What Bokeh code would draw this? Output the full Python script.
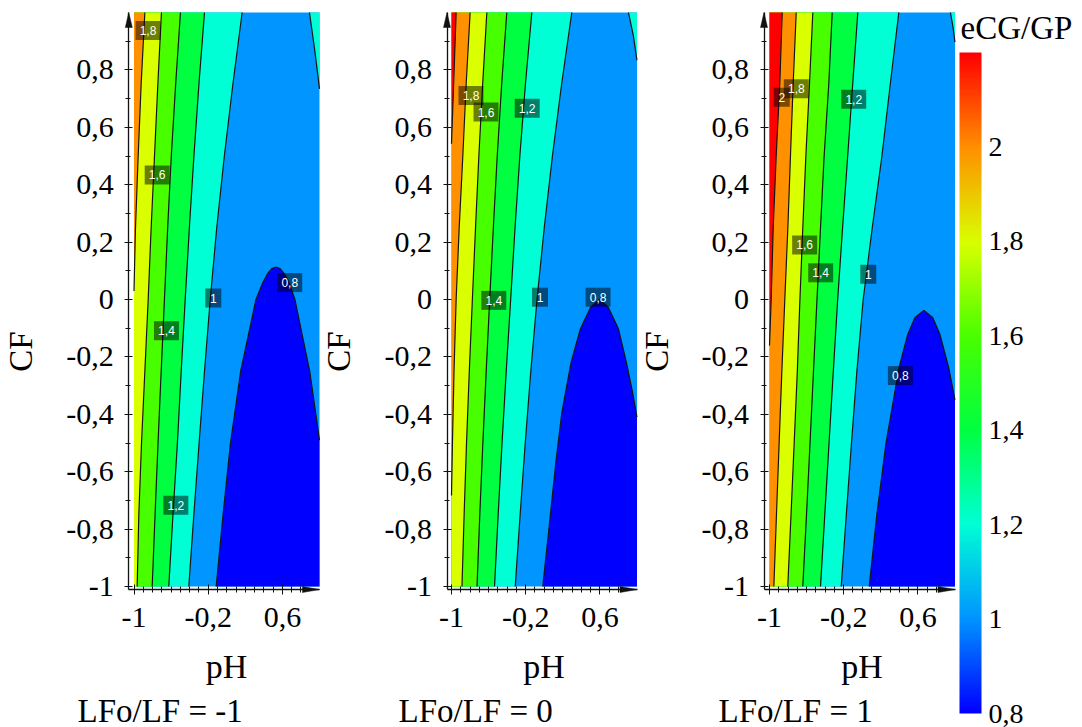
import numpy as np
from bokeh.plotting import figure
from bokeh.core.properties import value
from bokeh.models import (Range1d, FixedTicker, CustomJSTickFormatter, Label,
                          LinearAxis, LinearColorMapper)
from bokeh.embed import file_html
from bokeh.resources import INLINE

# ------------------------------------------------------------------ data
PH_MIN, PH_MAX = -1.0, 1.0
CF_MIN, CF_MAX = -1.0, 1.0
CF_GRID = [1.0, 0.75, 0.5, 0.25, 0.0, -0.25, -0.5, -0.75, -1.0]

X_MAJOR = [-1.0, -0.2, 0.6]
X_MINOR = [-0.9, -0.8, -0.7, -0.6, -0.5, -0.4, -0.3, -0.1, 0.0, 0.1, 0.2, 0.3,
           0.4, 0.5, 0.7, 0.8]
Y_MAJOR = [-1.0, -0.8, -0.6, -0.4, -0.2, 0.0, 0.2, 0.4, 0.6, 0.8]
Y_MINOR = [-0.9, -0.7, -0.5, -0.3, -0.1, 0.1, 0.3, 0.5, 0.7, 0.9]
CB_TICKS = [0.8, 1.0, 1.2, 1.4, 1.6, 1.8, 2.0]
CB_LOW, CB_HIGH = 0.8, 2.2
CB_ANCHOR_VALUES = [0.8, 1.0, 1.2, 1.4, 1.6, 1.8, 2.0, 2.2]
CB_ANCHOR_COLORS = ["#0000ff", "#0095ff", "#00ffd5", "#00ff40", "#48ff00",
                    "#d9ff00", "#ff9000", "#ff0000"]
CB_TITLE = "eCG/GP"
X_TITLE = "pH"
Y_TITLE = "CF"
PANEL_CAPTIONS = ["LFo/LF = -1", "LFo/LF = 0", "LFo/LF = 1"]

# ---- panel 1 : LFo/LF = -1 (pH positions of each contour line)
p1_cf_18 = [1.0, 0.75, 0.5, 0.25, 0.03]
p1_ph_18 = [-0.883, -0.923, -0.955, -0.984, -1.0]
p1_ph_16 = [-0.704, -0.743, -0.779, -0.815, -0.847, -0.883, -0.919, -0.948, -0.966]
p1_ph_14 = [-0.499, -0.551, -0.598, -0.637, -0.672, -0.707, -0.741, -0.773, -0.804]
p1_ph_12 = [-0.240, -0.300, -0.354, -0.403, -0.448, -0.491, -0.532, -0.580, -0.625]
p1_ph_10 = [0.166, 0.066, -0.026, -0.108, -0.178, -0.240, -0.298, -0.355, -0.409]
p1_edge10_ph = [0.892, 0.949, 0.975, 1.0]
p1_edge10_cf = [1.0, 0.868, 0.80, 0.734]
p1_dome_ph = [-0.114, -0.04, 0.04, 0.15, 0.315, 0.39, 0.44, 0.485, 0.53, 0.575, 0.62, 0.67, 0.735, 0.895, 1.0]
p1_dome_cf = [-1.0, -0.75, -0.5, -0.25, 0.0, 0.06, 0.09, 0.108, 0.113, 0.108, 0.09, 0.06, 0.0, -0.25, -0.49]
p1_lab_text = ["1,8", "1,6", "1,4", "1,2", "1", "0,8"]
p1_lab_ph = [-0.849, -0.750, -0.650, -0.549, -0.145, 0.679]
p1_lab_cf = [0.937, 0.434, -0.109, -0.717, 0.005, 0.059]

# ---- panel 2 : LFo/LF = 0
p2_cf_20 = [1.0, 0.75, 0.543]
p2_ph_20 = [-0.950, -0.977, -1.0]
p2_cf_18 = [1.0, 0.75, 0.5, 0.25, 0.0, -0.25, -0.5, -0.683]
p2_ph_18 = [-0.799, -0.842, -0.878, -0.917, -0.950, -0.973, -0.990, -1.0]
p2_ph_16 = [-0.619, -0.664, -0.705, -0.741, -0.775, -0.808, -0.838, -0.864, -0.887]
p2_ph_14 = [-0.404, -0.459, -0.507, -0.549, -0.588, -0.626, -0.662, -0.695, -0.725]
p2_ph_12 = [-0.134, -0.203, -0.263, -0.315, -0.362, -0.410, -0.455, -0.497, -0.536]
p2_ph_10 = [0.297, 0.187, 0.088, 0.000, -0.078, -0.145, -0.205, -0.260, -0.313]
p2_edge10_ph = [0.908, 0.96, 1.0]
p2_edge10_cf = [1.0, 0.92, 0.833]
p2_dome_ph = [-0.016, 0.05, 0.125, 0.19, 0.29, 0.39, 0.50, 0.595, 0.69, 0.80, 0.885, 0.95, 1.0]
p2_dome_cf = [-1.0, -0.8, -0.567, -0.393, -0.218, -0.102, -0.027, 0.0, -0.027, -0.102, -0.218, -0.32, -0.41]
p2_lab_text = ["1,8", "1,6", "1,2", "1,4", "1", "0,8"]
p2_lab_ph = [-0.790, -0.628, -0.184, -0.544, -0.046, 0.580]
p2_lab_cf = [0.711, 0.653, 0.666, -0.003, 0.008, 0.008]

# ---- panel 3 : LFo/LF = 1
p3_cf_20 = [1.0, 0.75, 0.5, 0.25, 0.0, -0.16]
p3_ph_20 = [-0.863, -0.889, -0.928, -0.960, -0.982, -1.0]
p3_ph_18 = [-0.712, -0.745, -0.774, -0.802, -0.835, -0.867, -0.896, -0.925, -0.953]
p3_ph_16 = [-0.533, -0.569, -0.608, -0.641, -0.672, -0.700, -0.734, -0.768, -0.803]
p3_ph_14 = [-0.324, -0.361, -0.411, -0.450, -0.488, -0.526, -0.563, -0.601, -0.641]
p3_ph_12 = [-0.048, -0.103, -0.157, -0.212, -0.265, -0.312, -0.358, -0.404, -0.450]
p3_ph_10 = [0.394, 0.302, 0.212, 0.108, 0.010, -0.058, -0.116, -0.172, -0.227]
p3_edge10_ph = [0.951, 0.978, 1.0]
p3_edge10_cf = [1.0, 0.95, 0.897]
p3_dome_ph = [0.075, 0.157, 0.256, 0.397, 0.492, 0.569, 0.664, 0.759, 0.836, 0.931, 1.0]
p3_dome_cf = [-1.0, -0.75, -0.5, -0.236, -0.12, -0.063, -0.038, -0.063, -0.12, -0.236, -0.35]
p3_lab_text = ["2", "1,8", "1,2", "1,6", "1,4", "1", "0,8"]
p3_lab_ph = [-0.868, -0.711, -0.092, -0.621, -0.448, 0.065, 0.411]
p3_lab_cf = [0.705, 0.734, 0.698, 0.190, 0.093, 0.088, -0.265]

# ------------------------------------------------------------------ layout / style
W, H = 1082, 727
BAND_ABOVE = {0.8: "#0095ff", 1.0: "#00ffd5", 1.2: "#00ff40", 1.4: "#48ff00",
              1.6: "#d9ff00", 1.8: "#ff9000", 2.0: "#ff0000"}
BAND_BELOW_08 = "#0000ff"
SERIF = "Liberation Serif"
AX_COLOR = "#111111"
LINE_COLOR = "#151515"
PPX = 92.75          # px per pH unit
PPY = 287.0          # px per CF unit
CF0_PX = 299.0       # page y of CF = 0
AXIS_Y_PX = 589.0    # page y of the pH axis lines
CB_X0, CB_W, CB_TOP, CB_BOT = 959, 22, 52, 713
TICK_FONT = "30px"
CB_FONT = "28px"

FMT = """
const v = Math.round(tick * 10) / 10;
const s = Number.isInteger(v) ? v.toFixed(0) : v.toFixed(1);
return s.replace('.', ',');
"""

panels = [
    dict(lines=[(1.0, p1_ph_10, CF_GRID), (1.2, p1_ph_12, CF_GRID), (1.4, p1_ph_14, CF_GRID),
                (1.6, p1_ph_16, CF_GRID), (1.8, p1_ph_18, p1_cf_18)],
         edge=(p1_edge10_ph, p1_edge10_cf), dome=(p1_dome_ph, p1_dome_cf),
         labels=(p1_lab_text, p1_lab_ph, p1_lab_cf),
         xl=133.5, ax=128.3, cf_lab=(20, 351), ph_lab=(226, 666), cap=(77, 710)),
    dict(lines=[(1.0, p2_ph_10, CF_GRID), (1.2, p2_ph_12, CF_GRID), (1.4, p2_ph_14, CF_GRID),
                (1.6, p2_ph_16, CF_GRID), (1.8, p2_ph_18, p2_cf_18), (2.0, p2_ph_20, p2_cf_20)],
         edge=(p2_edge10_ph, p2_edge10_cf), dome=(p2_dome_ph, p2_dome_cf),
         labels=(p2_lab_text, p2_lab_ph, p2_lab_cf),
         xl=451.0, ax=446.5, cf_lab=(338, 351), ph_lab=(543.5, 666), cap=(398, 710)),
    dict(lines=[(1.0, p3_ph_10, CF_GRID), (1.2, p3_ph_12, CF_GRID), (1.4, p3_ph_14, CF_GRID),
                (1.6, p3_ph_16, CF_GRID), (1.8, p3_ph_18, CF_GRID), (2.0, p3_ph_20, p3_cf_20)],
         edge=(p3_edge10_ph, p3_edge10_cf), dome=(p3_dome_ph, p3_dome_cf),
         labels=(p3_lab_text, p3_lab_ph, p3_lab_cf),
         xl=769.0, ax=763.5, cf_lab=(656, 351), ph_lab=(861.5, 666), cap=(718, 710)),
]

p = figure(width=W, height=H, x_range=Range1d(0, W), y_range=Range1d(0, H),
           x_axis_location=None, y_axis_location=None, toolbar_location=None,
           output_backend="svg", min_border=0)
p.outline_line_color = None
p.background_fill_color = "white"
p.border_fill_color = "white"
p.grid.visible = False

cf_lo = (CF0_PX - H) / PPY
cf_hi = CF0_PX / PPY
cb_per_px = (CB_HIGH - CB_LOW) / (CB_BOT - CB_TOP)
p.extra_y_ranges = {
    "cf": Range1d(cf_lo, cf_hi),
    "cb": Range1d(CB_LOW - (H - CB_BOT) * cb_per_px, CB_LOW + CB_BOT * cb_per_px),
}
p.extra_x_ranges = {f"ph{k}": Range1d(-1 - g["xl"] / PPX, -1 + (W - g["xl"]) / PPX)
                    for k, g in enumerate(panels)}

axis_cf = (CF0_PX - AXIS_Y_PX) / PPY


def style_axis(ax, size=TICK_FONT):
    ax.formatter = CustomJSTickFormatter(code=FMT)
    ax.axis_line_color = AX_COLOR
    ax.axis_line_width = 1.3
    ax.major_tick_line_color = AX_COLOR
    ax.minor_tick_line_color = AX_COLOR
    ax.major_label_text_font = SERIF
    ax.major_label_text_font_size = size
    ax.major_label_text_color = "black"


def page_label(text, px, py, size, align, baseline, angle=0.0):
    p.add_layout(Label(x=px, y=H - py, text=text, text_align=align, text_baseline=baseline,
                       angle=angle, text_font=SERIF, text_font_size=f"{size}px",
                       text_color="black"))


for k, (g, caption) in enumerate(zip(panels, PANEL_CAPTIONS)):
    rx = dict(x_range_name=f"ph{k}", y_range_name="cf")
    axis_ph = -1 + (g["ax"] - g["xl"]) / PPX

    # filled bands (painted from low to high values)
    p.patch([PH_MIN, PH_MAX, PH_MAX, PH_MIN], [CF_MIN, CF_MIN, CF_MAX, CF_MAX],
            fill_color=BAND_ABOVE[0.8], line_color=None, **rx)
    for lev, ph, cf in g["lines"]:
        p.patch(list(ph) + [PH_MIN, PH_MIN], list(cf) + [cf[-1], cf[0]],
                fill_color=BAND_ABOVE[lev], line_color=None, **rx)
    eph, ecf = g["edge"]
    p.patch(list(eph) + [PH_MAX], list(ecf) + [CF_MAX], fill_color=BAND_ABOVE[1.0],
            line_color=None, **rx)
    dph, dcf = g["dome"]
    p.patch(list(dph) + [PH_MAX], list(dcf) + [CF_MIN], fill_color=BAND_BELOW_08,
            line_color=None, **rx)

    # contour lines
    for lev, ph, cf in g["lines"]:
        p.line(ph, cf, line_color=LINE_COLOR, line_width=1.2, **rx)
    p.line(eph, ecf, line_color=LINE_COLOR, line_width=1.2, **rx)
    p.line(dph, dcf, line_color=LINE_COLOR, line_width=1.2, **rx)

    # contour value boxes
    texts, xs, ys = g["labels"]
    box_w = [16 if len(t) == 1 else 25 for t in texts]
    p.rect(x=xs, y=ys, width=box_w, height=19, width_units="screen", height_units="screen",
           fill_color="black", fill_alpha=0.5, line_color=None, **rx)
    p.text(x=xs, y=ys, text=texts, text_align="center", text_baseline="middle",
           text_color="white", text_font=value("Liberation Sans"), text_font_size="12px", **rx)

    # axes placed at fixed positions
    xa = LinearAxis(fixed_location=axis_cf, bounds=(axis_ph, PH_MAX),
                    ticker=FixedTicker(ticks=X_MAJOR, minor_ticks=X_MINOR), **rx)
    style_axis(xa)
    xa.major_tick_out = 5
    xa.major_tick_in = 5
    xa.minor_tick_out = 3
    xa.minor_tick_in = 3
    xa.major_label_standoff = 13
    p.add_layout(xa, "below")

    ya = LinearAxis(fixed_location=axis_ph, bounds=(axis_cf, CF_MAX),
                    ticker=FixedTicker(ticks=Y_MAJOR, minor_ticks=Y_MINOR), **rx)
    style_axis(ya)
    ya.major_tick_out = 4
    ya.major_tick_in = 4
    ya.minor_tick_out = 3
    ya.minor_tick_in = 2
    ya.major_label_standoff = 11
    p.add_layout(ya, "left")

    # arrow heads at the axis ends (page pixels)
    axx = g["ax"]
    p.patch([axx - 3.5, axx, axx + 3.5], [H - 27, H - 12, H - 27],
            fill_color=AX_COLOR, line_color=AX_COLOR, line_width=0.5)
    tip_x = g["xl"] + (PH_MAX - PH_MIN) * PPX
    p.patch([tip_x - 17, tip_x, tip_x - 17],
            [H - AXIS_Y_PX + 3, H - AXIS_Y_PX, H - AXIS_Y_PX - 3],
            fill_color=AX_COLOR, line_color=AX_COLOR, line_width=0.5)

    # titles
    page_label(Y_TITLE, g["cf_lab"][0], g["cf_lab"][1], 33, "center", "middle", np.pi / 2)
    page_label(X_TITLE, g["ph_lab"][0], g["ph_lab"][1], 34, "center", "alphabetic")
    page_label(caption, g["cap"][0], g["cap"][1], 33, "left", "alphabetic")

# ------------------------------------------------------------------ colour bar
def hex2rgb(h):
    return [int(h[i:i + 2], 16) for i in (1, 3, 5)]

anchor_rgb = np.array([hex2rgb(c) for c in CB_ANCHOR_COLORS], dtype=float)
steps = np.linspace(CB_LOW, CB_HIGH, 256)
palette = ["#%02x%02x%02x" % tuple(int(round(np.interp(v, CB_ANCHOR_VALUES, anchor_rgb[:, k])))
                                   for k in range(3)) for v in steps]
mapper = LinearColorMapper(palette=palette, low=CB_LOW, high=CB_HIGH)
ramp = np.linspace(CB_LOW, CB_HIGH, CB_BOT - CB_TOP).reshape(-1, 1)
p.image(image=[ramp], x=CB_X0, y=CB_LOW, dw=CB_W, dh=CB_HIGH - CB_LOW,
        color_mapper=mapper, y_range_name="cb")

cba = LinearAxis(fixed_location=CB_X0 + CB_W, bounds=(CB_LOW, CB_HIGH), y_range_name="cb",
                 ticker=FixedTicker(ticks=CB_TICKS, minor_ticks=[]))
style_axis(cba, CB_FONT)
cba.axis_line_color = None
cba.major_tick_line_color = None
cba.minor_tick_line_color = None
cba.major_tick_out = 0
cba.major_tick_in = 0
cba.major_label_standoff = 7
p.add_layout(cba, "right")

page_label(CB_TITLE, 960, 27, 33, "left", "alphabetic")

open("out.html", "w").write(file_html(p, INLINE))
